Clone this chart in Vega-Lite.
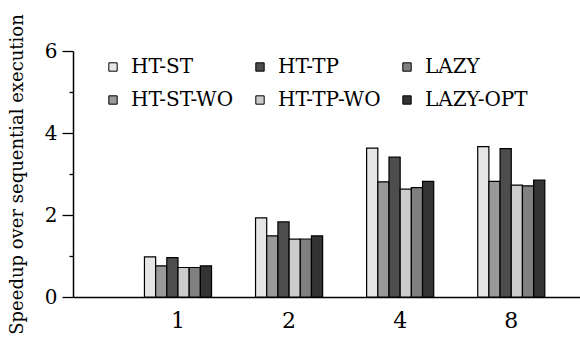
{
  "$schema": "https://vega.github.io/schema/vega-lite/v6.json",
  "width": 507,
  "height": 246,
  "autosize": {"type": "none"},
  "padding": {"left": 73, "top": 51, "right": 0, "bottom": 48},
  "background": "white",
  "config": {
    "view": {"stroke": null},
    "font": "DejaVu Serif"
  },
  "data": {
    "values": [
      {"threads": "1", "series": "HT-ST", "speedup": 0.98},
      {"threads": "1", "series": "HT-ST-WO", "speedup": 0.76},
      {"threads": "1", "series": "HT-TP", "speedup": 0.96},
      {"threads": "1", "series": "HT-TP-WO", "speedup": 0.72},
      {"threads": "1", "series": "LAZY", "speedup": 0.72},
      {"threads": "1", "series": "LAZY-OPT", "speedup": 0.76},
      {"threads": "2", "series": "HT-ST", "speedup": 1.93},
      {"threads": "2", "series": "HT-ST-WO", "speedup": 1.49},
      {"threads": "2", "series": "HT-TP", "speedup": 1.83},
      {"threads": "2", "series": "HT-TP-WO", "speedup": 1.41},
      {"threads": "2", "series": "LAZY", "speedup": 1.415},
      {"threads": "2", "series": "LAZY-OPT", "speedup": 1.49},
      {"threads": "4", "series": "HT-ST", "speedup": 3.63},
      {"threads": "4", "series": "HT-ST-WO", "speedup": 2.81},
      {"threads": "4", "series": "HT-TP", "speedup": 3.41},
      {"threads": "4", "series": "HT-TP-WO", "speedup": 2.63},
      {"threads": "4", "series": "LAZY", "speedup": 2.67},
      {"threads": "4", "series": "LAZY-OPT", "speedup": 2.82},
      {"threads": "8", "series": "HT-ST", "speedup": 3.67},
      {"threads": "8", "series": "HT-ST-WO", "speedup": 2.82},
      {"threads": "8", "series": "HT-TP", "speedup": 3.62},
      {"threads": "8", "series": "HT-TP-WO", "speedup": 2.73},
      {"threads": "8", "series": "LAZY", "speedup": 2.71},
      {"threads": "8", "series": "LAZY-OPT", "speedup": 2.85}
    ]
  },
  "mark": {"type": "bar", "stroke": "black", "strokeWidth": 1.2},
  "encoding": {
    "x": {
      "field": "threads",
      "type": "nominal",
      "sort": ["1", "2", "4", "8"],
      "scale": {"paddingInner": 0.396, "paddingOuter": 0.48, "align": 0.67},
      "axis": {
        "title": null,
        "labelAngle": 0,
        "ticks": false,
        "tickSize": 0,
        "labelPadding": 13,
        "labelFontSize": 22,
        "labelFont": "DejaVu Serif",
        "labelColor": "black",
        "domainColor": "black",
        "domainWidth": 1.5
      }
    },
    "xOffset": {
      "field": "series",
      "type": "nominal",
      "sort": ["HT-ST", "HT-ST-WO", "HT-TP", "HT-TP-WO", "LAZY", "LAZY-OPT"],
      "scale": {"paddingInner": 0, "paddingOuter": 0}
    },
    "y": {
      "field": "speedup",
      "type": "quantitative",
      "scale": {"domain": [0, 6], "nice": false},
      "axis": {
        "title": "Speedup over sequential execution",
        "titleFont": "DejaVu Serif",
        "titleFontSize": 18,
        "titleFontWeight": "normal",
        "titleColor": "black",
        "titlePadding": 18,
        "values": [0, 1, 2, 3, 4, 5, 6],
        "labelExpr": "datum.value % 2 == 0 ? datum.label : ''",
        "labelFont": "DejaVu Serif",
        "labelFontSize": 20,
        "labelColor": "black",
        "labelPadding": 5,
        "tickSize": {"condition": {"test": "datum.value % 2 == 0", "value": 11}, "value": 4},
        "tickColor": "black",
        "tickWidth": 1.3,
        "domainColor": "black",
        "domainWidth": 1.5,
        "grid": false
      }
    },
    "color": {
      "field": "series",
      "type": "nominal",
      "scale": {
        "domain": ["HT-ST", "HT-ST-WO", "HT-TP", "HT-TP-WO", "LAZY", "LAZY-OPT"],
        "range": ["#e6e6e6", "#999999", "#4d4d4d", "#cccccc", "#808080", "#333333"]
      },
      "legend": {
        "title": null,
        "orient": "none",
        "legendX": 30,
        "legendY": 6,
        "columns": 3,
        "padding": 0,
        "symbolType": "square",
        "symbolSize": 70,
        "symbolStrokeColor": "black",
        "symbolStrokeWidth": 1,
        "symbolOpacity": 1,
        "labelFont": "DejaVu Serif",
        "labelFontSize": 20,
        "labelColor": "black",
        "labelOffset": 8,
        "columnPadding": 16,
        "rowPadding": 13
      }
    }
  }
}
